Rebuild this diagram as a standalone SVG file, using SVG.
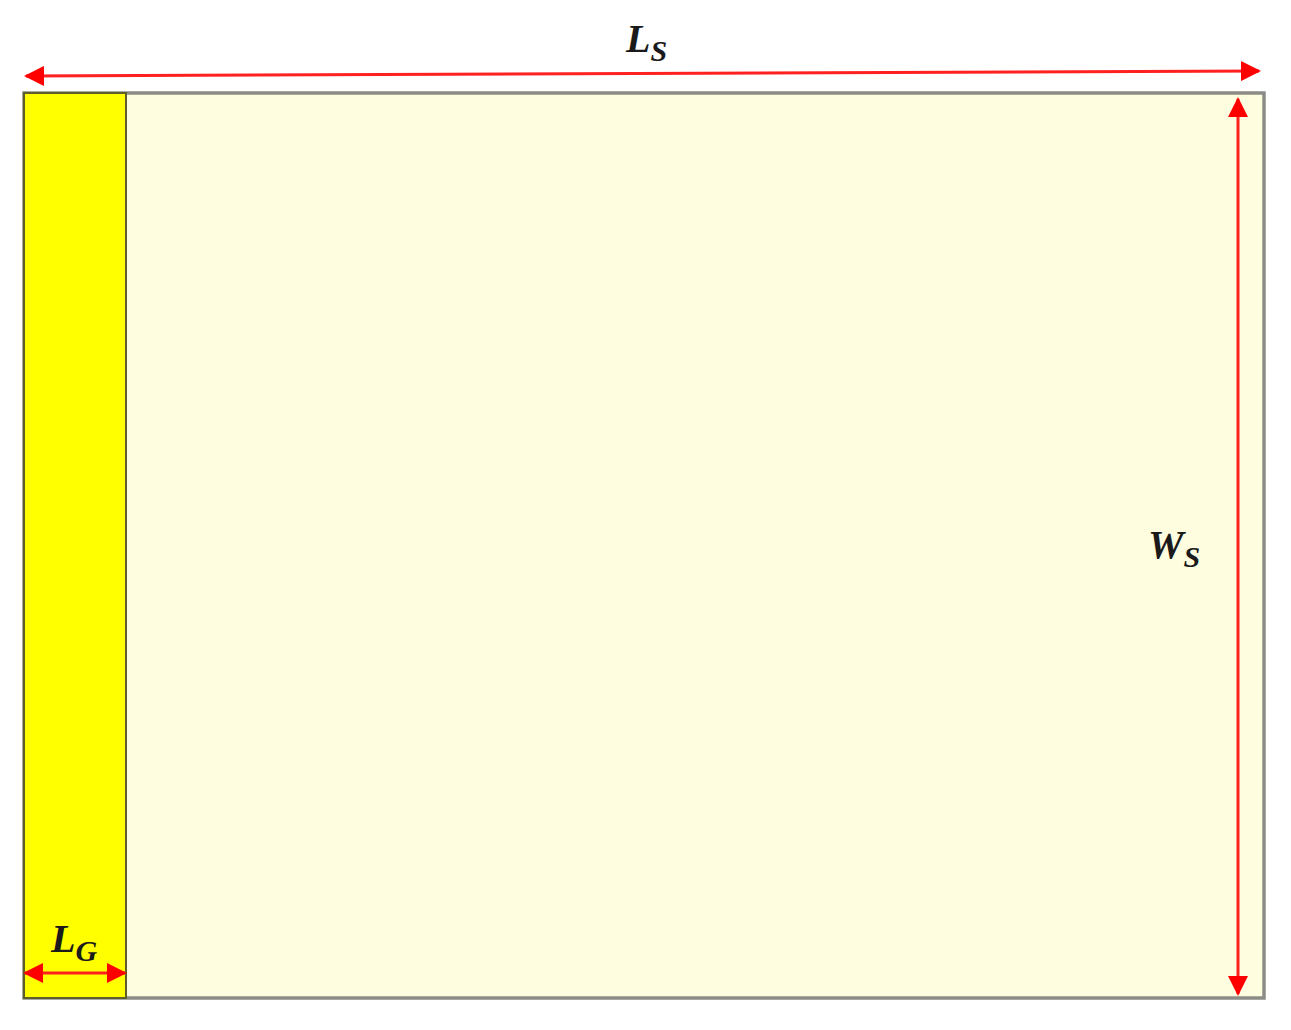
<svg xmlns="http://www.w3.org/2000/svg" width="1291" height="1030" viewBox="0 0 1291 1030">
<style>
.lbl{font-family:"Liberation Serif","DejaVu Serif",serif;font-weight:bold;font-style:italic;fill:#1a1a1a}
.main{font-size:40px}
.sub{font-size:30px}
.dim{stroke:#ff2020;stroke-width:3;fill:none}
</style>
<defs>
<marker id="ahb" viewBox="0 0 10 10" refX="9" refY="5" markerWidth="20" markerHeight="20" orient="auto-start-reverse" markerUnits="userSpaceOnUse">
<path d="M0,0 L10,5 L0,10 z" fill="#ff0000"/>
</marker>
</defs>
<rect width="1291" height="1030" fill="#ffffff"/>
<g id="substrate">
<rect x="24" y="93" width="1240" height="905" fill="#fefde0" stroke="#8c8c86" stroke-width="3.5"/>
</g>
<g id="ground">
<rect x="24" y="93" width="102" height="905" fill="#ffff00" stroke="#5e5e2a" stroke-width="2"/>
</g>
<g id="connectors">
<line class="dim" x1="26" y1="76" x2="1259" y2="71" marker-start="url(#ahb)" marker-end="url(#ahb)"/>
<line class="dim" x1="1238" y1="99" x2="1238" y2="994" marker-start="url(#ahb)" marker-end="url(#ahb)"/>
<line class="dim" x1="25" y1="973" x2="125" y2="973" marker-start="url(#ahb)" marker-end="url(#ahb)"/>
</g>
<g id="labels">
<text class="lbl" x="626" y="52"><tspan class="main">L</tspan><tspan class="sub" dy="9">S</tspan></text>
<text class="lbl" x="1148" y="558"><tspan class="main">W</tspan><tspan class="sub" dy="9">S</tspan></text>
<text class="lbl" x="51" y="952"><tspan class="main">L</tspan><tspan class="sub" dy="9">G</tspan></text>
</g>
</svg>
